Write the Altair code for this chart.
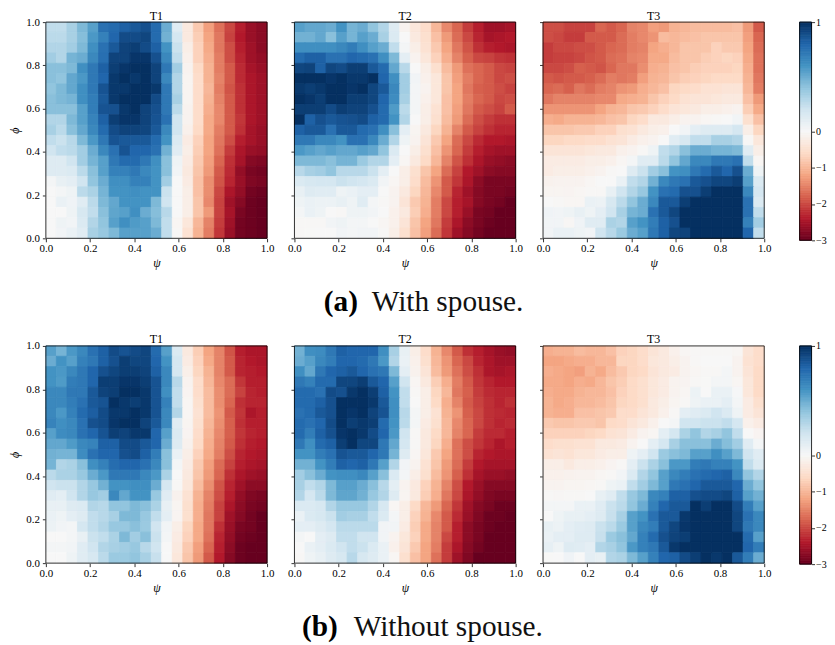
import altair as alt
import pandas as pd
import numpy as np

# Rows run from phi = 1 (top) to phi = 0 (bottom); columns from psi = 0 to psi = 1.
a_t1 = [
[.25,.25,.33,.45,.55,.75,.78,.82,.85,.88,.78,.5,.12,-.3,-.8,-1.25,-1.65,-2.0,-2.35,-2.6,-2.7],
[.27,.27,.33,.43,.58,.68,.8,.9,.9,.92,.78,.48,.18,-.3,-.75,-1.2,-1.6,-2.05,-2.4,-2.6,-2.7],
[.3,.3,.35,.45,.62,.75,.85,.93,.95,.9,.82,.6,.22,-.2,-.7,-1.15,-1.6,-1.95,-2.35,-2.55,-2.7],
[.35,.3,.47,.5,.65,.76,.93,.93,.98,.98,.88,.65,.25,-.15,-.7,-1.1,-1.55,-1.95,-2.3,-2.55,-2.65],
[.42,.42,.45,.62,.72,.82,.95,.98,1,1,.93,.72,.35,-.1,-.6,-1.05,-1.55,-1.85,-2.25,-2.5,-2.6],
[.42,.4,.52,.58,.72,.8,.97,1,.97,1,.93,.65,.3,-.07,-.55,-1.05,-1.5,-1.85,-2.25,-2.45,-2.55],
[.4,.45,.52,.62,.72,.87,.97,.97,1,1,.97,.72,.3,-.07,-.55,-1.0,-1.55,-1.9,-2.2,-2.45,-2.55],
[.42,.45,.47,.62,.7,.85,.97,1,1,1,.9,.72,.33,-.07,-.55,-1.05,-1.5,-1.85,-2.2,-2.45,-2.55],
[.42,.42,.42,.55,.7,.87,.88,.97,1,.93,.88,.72,.27,-.1,-.55,-1.1,-1.45,-1.85,-2.2,-2.45,-2.55],
[.3,.3,.45,.55,.67,.82,.95,.98,.98,.93,.87,.75,.2,-.1,-.55,-1.15,-1.45,-1.85,-2.15,-2.45,-2.55],
[.33,.27,.42,.52,.65,.78,.9,.93,.93,.92,.85,.65,.2,-.15,-.6,-1.15,-1.55,-1.85,-2.2,-2.5,-2.6],
[.25,.22,.28,.45,.58,.72,.87,.85,.85,.85,.78,.6,.15,-.25,-.7,-1.2,-1.6,-1.95,-2.35,-2.5,-2.6],
[.2,.25,.27,.35,.5,.65,.75,.87,.8,.8,.75,.48,.12,-.2,-.75,-1.2,-1.65,-2.1,-2.45,-2.6,-2.65],
[.13,.13,.2,.35,.47,.55,.72,.78,.78,.72,.62,.42,.05,-.25,-.8,-1.25,-1.75,-2.2,-2.5,-2.75,-2.8],
[.13,.13,.15,.27,.42,.55,.68,.68,.72,.65,.6,.42,.03,-.3,-.85,-1.3,-1.85,-2.25,-2.65,-2.85,-2.9],
[.02,.08,.1,.2,.4,.5,.62,.62,.68,.68,.6,.35,0,-.25,-.9,-1.4,-1.9,-2.3,-2.6,-2.8,-2.85],
[0,.02,.05,.27,.32,.47,.6,.6,.62,.6,.6,.22,0,-.2,-.9,-1.4,-2.0,-2.45,-2.65,-2.9,-2.95],
[0,.07,.04,.12,.27,.45,.52,.6,.6,.6,.45,.2,0,-.2,-.85,-1.45,-2.05,-2.55,-2.75,-2.95,-3],
[0,0,.05,.17,.25,.42,.53,.55,.62,.5,.43,.28,0,-.2,-.85,-1.3,-2.05,-2.5,-2.85,-2.95,-3],
[0,.05,.03,.15,.3,.4,.55,.62,.57,.55,.45,.25,-.05,-.35,-1,-1.5,-2.1,-2.55,-2.9,-2.95,-3],
[0,.03,.07,.12,.33,.38,.45,.55,.55,.55,.5,.25,-.03,-.45,-1.05,-1.55,-2.15,-2.6,-2.9,-2.95,-3],
]
a_t2 = [
[.55,.52,.52,.5,.6,.47,.5,.4,.3,.13,-.1,-.35,-.55,-1,-1.45,-1.75,-2.1,-2.35,-2.55,-2.55,-2.5],
[.48,.48,.52,.42,.55,.47,.55,.5,.33,.15,0,-.3,-.5,-.9,-1.3,-1.7,-2,-2.3,-2.5,-2.45,-2.4],
[.62,.62,.62,.62,.65,.7,.62,.55,.5,.25,.02,-.2,-.45,-.8,-1.2,-1.6,-1.9,-2.2,-2.35,-2.4,-2.45],
[.78,.82,.82,.75,.75,.8,.78,.75,.62,.45,.1,-.1,-.35,-.7,-1.1,-1.5,-1.8,-2,-2.05,-2.15,-2.2],
[.92,.93,.82,.92,.9,.95,.95,.85,.78,.52,.28,0,-.2,-.5,-.95,-1.3,-1.65,-1.75,-1.85,-2,-2.05],
[1,1,1,.98,1,.97,.97,1,.8,.62,.35,.03,-.15,-.35,-.85,-1.25,-1.55,-1.75,-1.85,-2,-1.95],
[.97,.95,.97,1,1,.98,1,.92,.85,.65,.35,.02,-.1,-.35,-.85,-1.2,-1.6,-1.8,-1.85,-1.95,-2.05],
[1,.98,.95,1,1,.95,.95,.92,.8,.63,.33,.02,-.15,-.35,-.9,-1.2,-1.55,-1.75,-1.85,-2,-1.95],
[.95,.95,.95,.9,.95,.93,.93,.88,.78,.57,.27,.02,-.2,-.45,-.9,-1.25,-1.6,-1.85,-1.95,-2.05,-1.85],
[1,.82,.88,.85,.87,.88,.9,.82,.78,.6,.3,0,-.2,-.5,-.95,-1.3,-1.7,-1.95,-2.1,-2.2,-2.2],
[.82,.85,.85,.75,.85,.85,.78,.75,.62,.42,.1,-.07,-.3,-.65,-1.05,-1.5,-1.85,-2.05,-2.2,-2.3,-2.3],
[.72,.72,.65,.65,.6,.75,.75,.65,.5,.3,.05,-.1,-.4,-.8,-1.2,-1.7,-2,-2.25,-2.4,-2.4,-2.45],
[.58,.55,.52,.55,.52,.52,.55,.52,.4,.15,0,-.2,-.5,-.9,-1.35,-1.75,-2.1,-2.35,-2.5,-2.55,-2.55],
[.45,.45,.45,.42,.47,.47,.37,.3,.3,.1,-.05,-.3,-.6,-1,-1.5,-1.9,-2.2,-2.45,-2.6,-2.65,-2.7],
[.28,.33,.35,.4,.28,.28,.28,.22,.1,0,-.2,-.5,-.85,-1.2,-1.7,-2.05,-2.4,-2.55,-2.7,-2.75,-2.75],
[.15,.17,.18,.18,.22,.2,.18,.15,.03,-.05,-.2,-.55,-.95,-1.35,-1.85,-2.15,-2.45,-2.7,-2.85,-2.85,-2.85],
[.08,.13,.12,.12,.05,.07,.1,.1,0,-.1,-.3,-.65,-1,-1.45,-1.85,-2.3,-2.55,-2.75,-2.85,-2.85,-2.9],
[.05,.07,.06,.06,.08,.05,.12,.02,-.02,-.1,-.4,-.8,-1.05,-1.55,-2.0,-2.35,-2.5,-2.75,-2.85,-2.9,-3],
[.02,.07,.05,0,-.02,.05,.05,.03,0,-.15,-.3,-.75,-1.1,-1.55,-2,-2.35,-2.6,-2.85,-2.9,-3,-3],
[-.02,-.02,-.02,.03,.05,.02,.02,0,-.05,-.15,-.4,-.85,-1.2,-1.6,-2.1,-2.45,-2.7,-2.85,-2.95,-3,-3],
[-.02,-.01,0,0,.03,.02,.03,.03,-.02,-.2,-.5,-.9,-1.25,-1.7,-2.15,-2.55,-2.75,-2.9,-3,-3,-3],
]
a_t3 = [
[-1.95,-1.95,-2.05,-2.05,-2.05,-1.75,-1.85,-1.75,-1.5,-1.45,-1.25,-1.3,-1.05,-1,-.95,-.95,-.95,-.95,-.9,-1.3,-1.85],
[-1.95,-2,-2.1,-2.1,-1.85,-1.85,-1.85,-1.7,-1.55,-1.45,-1.35,-.95,-1,-.95,-.9,-.85,-.85,-.85,-.85,-1.25,-1.75],
[-2.1,-2,-2,-1.95,-1.95,-1.85,-1.75,-1.7,-1.55,-1.5,-1.2,-1.1,-1,-.85,-.85,-.85,-.7,-.8,-.8,-1.2,-1.7],
[-2.1,-2.05,-2.05,-2,-1.9,-1.85,-1.7,-1.65,-1.5,-1.45,-1.15,-1.15,-.95,-.85,-.85,-.75,-.7,-.65,-.7,-1.15,-1.65],
[-2,-2,-1.95,-1.8,-1.85,-1.9,-1.75,-1.6,-1.6,-1.4,-1.1,-1.05,-.9,-.85,-.75,-.7,-.7,-.7,-.65,-1.1,-1.65],
[-1.85,-1.9,-1.85,-1.85,-1.8,-1.7,-1.55,-1.6,-1.55,-1.25,-1.05,-1,-.85,-.75,-.7,-.65,-.6,-.6,-.6,-1.05,-1.6],
[-1.75,-1.7,-1.8,-1.6,-1.7,-1.55,-1.5,-1.35,-1.3,-1.1,-1,-.9,-.65,-.6,-.55,-.45,-.45,-.4,-.4,-1,-1.55],
[-1.6,-1.5,-1.5,-1.5,-1.5,-1.45,-1.45,-1.15,-1.1,-1.05,-.85,-.7,-.6,-.45,-.4,-.4,-.35,-.3,-.3,-.9,-1.3],
[-1.35,-1.35,-1.35,-1.35,-1.35,-1.2,-1.05,-1,-.85,-.8,-.7,-.55,-.4,-.35,-.3,-.2,-.2,-.15,-.1,-.75,-1.15],
[-1.1,-1.15,-1.05,-1.05,-1.05,-1,-.9,-.85,-.65,-.55,-.3,-.3,-.2,-.1,-.1,-.05,-.03,0,.03,-.5,-.9],
[-.85,-.85,-.85,-.8,-.8,-.7,-.7,-.5,-.45,-.3,-.2,-.15,0,.03,.1,.13,.13,.13,.18,-.2,-.65],
[-.65,-.65,-.6,-.6,-.55,-.55,-.45,-.4,-.25,-.15,-.1,0,.12,.17,.25,.25,.33,.33,.3,-.02,-.35],
[-.4,-.4,-.4,-.4,-.35,-.3,-.3,-.15,-.1,-.03,.05,.25,.3,.42,.5,.5,.47,.47,.45,.12,-.2],
[-.25,-.25,-.25,-.25,-.2,-.2,-.15,-.05,.02,.12,.12,.27,.4,.52,.65,.65,.72,.72,.75,.25,-.05],
[-.25,-.2,-.2,-.2,-.15,-.1,-.03,0,.13,.22,.35,.42,.6,.62,.72,.78,.85,.8,.88,.5,.05],
[-.12,-.1,-.1,-.1,-.05,0,0,.07,.25,.3,.48,.65,.72,.75,.85,.88,.92,.92,.95,.55,.15],
[-.07,-.07,-.08,-.05,-.03,-.03,.08,.2,.3,.38,.6,.75,.78,.88,.88,.95,1,1,1,.65,.18],
[0,-.02,-.05,-.05,.07,.06,.17,.27,.4,.5,.65,.85,.85,.95,1,1,1,1,1,.75,.15],
[.04,.03,.05,.08,.05,.1,.2,.33,.47,.5,.75,.85,.92,1,1,1,1,1,1,.75,.25],
[.03,.03,-.04,.04,.12,.12,.32,.3,.55,.6,.7,.82,.88,1,1,1,1,1,1,.68,.35],
[.03,.07,.07,.05,.03,.2,.28,.37,.5,.55,.72,.82,.92,.93,1,1,1,1,1,.8,.25],
]
b_t1 = [
[.55,.47,.58,.65,.75,.82,.9,.87,.9,.92,.78,.55,.15,-.3,-.75,-1.2,-1.5,-1.9,-2.35,-2.45,-2.45],
[.5,.6,.55,.68,.72,.82,.88,.95,.92,.92,.8,.6,.18,-.25,-.7,-1.15,-1.5,-1.85,-2.3,-2.4,-2.45],
[.6,.58,.65,.72,.8,.88,.92,.95,.95,.93,.82,.65,.18,-.18,-.65,-1.05,-1.5,-1.85,-2.3,-2.35,-2.4],
[.6,.57,.7,.72,.8,.95,.95,.98,.98,.95,.87,.65,.28,-.1,-.55,-1,-1.45,-1.7,-2.15,-2.35,-2.35],
[.65,.65,.72,.72,.85,.93,.95,1,1,.97,.87,.62,.25,-.08,-.55,-.95,-1.4,-1.7,-2.05,-2.3,-2.35],
[.65,.65,.7,.75,.85,.87,1,.97,.95,.97,.87,.68,.25,-.05,-.5,-.95,-1.4,-1.75,-2.2,-2.3,-2.3],
[.65,.58,.68,.78,.83,.9,.97,.97,1,.97,.87,.65,.3,-.05,-.45,-.95,-1.35,-1.85,-2.15,-2.45,-2.35],
[.67,.62,.65,.75,.88,.9,.98,1,1,.93,.85,.65,.12,-.07,-.5,-1,-1.4,-1.8,-2.2,-2.35,-2.35],
[.55,.63,.65,.75,.8,.87,.95,.93,.97,.97,.8,.55,.15,-.08,-.55,-1.05,-1.45,-1.8,-2.15,-2.3,-2.35],
[.52,.52,.57,.65,.67,.82,.82,.9,.9,.85,.8,.5,.13,-.12,-.6,-1.1,-1.5,-1.85,-2.2,-2.35,-2.4],
[.48,.47,.47,.63,.75,.8,.8,.88,.9,.82,.7,.42,.07,-.2,-.7,-1.15,-1.55,-1.95,-2.3,-2.4,-2.45],
[.47,.3,.32,.42,.62,.68,.77,.8,.8,.75,.65,.42,.02,-.25,-.8,-1.25,-1.7,-2.05,-2.35,-2.45,-2.5],
[.27,.32,.32,.38,.5,.58,.72,.72,.72,.65,.58,.32,0,-.3,-.85,-1.3,-1.75,-2.2,-2.45,-2.55,-2.6],
[.2,.22,.22,.3,.38,.48,.6,.6,.62,.62,.5,.18,-.02,-.35,-.95,-1.4,-1.9,-2.3,-2.55,-2.7,-2.7],
[.12,.1,.2,.3,.38,.35,.65,.52,.6,.6,.38,.12,-.12,-.45,-1.05,-1.5,-1.95,-2.35,-2.65,-2.8,-2.85],
[.08,.08,.13,.15,.3,.28,.4,.4,.45,.42,.32,.08,-.07,-.5,-1.1,-1.55,-2.05,-2.45,-2.7,-2.85,-2.9],
[.07,.05,.1,.13,.25,.28,.33,.45,.45,.38,.25,.1,-.08,-.5,-1.1,-1.6,-2.05,-2.55,-2.75,-2.9,-3],
[.06,.03,.02,.18,.25,.3,.38,.38,.42,.37,.2,.03,-.2,-.65,-1.15,-1.6,-2.2,-2.6,-2.85,-2.9,-3],
[0,0,.02,.08,.22,.25,.32,.45,.35,.42,.22,.02,-.25,-.7,-1.15,-1.65,-2.3,-2.65,-2.9,-2.95,-3],
[.02,.02,.03,.12,.2,.3,.33,.35,.38,.28,.2,0,-.3,-.8,-1.25,-1.75,-2.35,-2.7,-2.95,-3,-3],
[0,0,.05,.12,.17,.27,.37,.37,.4,.33,.23,0,-.35,-.85,-1.3,-1.85,-2.4,-2.75,-2.95,-3,-3],
]
b_t2 = [
[.48,.62,.63,.72,.82,.8,.8,.8,.62,.33,.08,-.2,-.55,-1.05,-1.45,-1.85,-2.2,-2.35,-2.5,-2.6,-2.65],
[.5,.55,.65,.7,.8,.8,.78,.72,.58,.3,.07,-.15,-.5,-1,-1.35,-1.75,-2,-2.3,-2.45,-2.55,-2.55],
[.62,.52,.72,.8,.82,.85,.8,.75,.72,.45,.1,-.12,-.4,-.95,-1.3,-1.65,-1.95,-2.2,-2.45,-2.5,-2.45],
[.72,.68,.78,.78,.92,.92,.95,.85,.8,.55,.2,-.05,-.3,-.75,-1.1,-1.55,-1.85,-2.15,-2.3,-2.4,-2.4],
[.78,.78,.75,.9,.88,.97,1,.95,.82,.6,.25,-.03,-.2,-.65,-1,-1.6,-1.8,-2.1,-2.25,-2.3,-2.3],
[.78,.78,.82,.88,1,1,1,.97,.85,.62,.25,0,-.2,-.6,-1.1,-1.5,-1.85,-2.05,-2.2,-2.3,-2.2],
[.75,.78,.85,.88,1,.98,1,.93,.87,.62,.28,.02,-.2,-.45,-1.05,-1.35,-1.8,-2,-2.2,-2.25,-2.3],
[.78,.75,.8,.9,1,.95,.97,.95,.78,.6,.27,.02,-.25,-.5,-1,-1.45,-1.75,-2,-2.2,-2.3,-2.25],
[.78,.7,.82,.88,.98,1,.97,.9,.8,.58,.2,-.02,-.3,-.6,-1,-1.5,-1.75,-2.1,-2.25,-2.25,-2.35],
[.72,.62,.78,.82,.95,1,.92,.92,.72,.52,.18,-.03,-.3,-.65,-1.1,-1.65,-1.95,-2.15,-2.3,-2.45,-2.35],
[.6,.6,.7,.75,.87,.85,.85,.8,.72,.47,.13,-.05,-.35,-.8,-1.2,-1.65,-1.95,-2.3,-2.4,-2.45,-2.45],
[.48,.48,.6,.7,.82,.8,.82,.72,.55,.3,.03,-.1,-.45,-.85,-1.3,-1.7,-2.1,-2.4,-2.5,-2.5,-2.5],
[.35,.42,.5,.6,.62,.62,.65,.55,.42,.15,.02,-.2,-.5,-.95,-1.35,-1.8,-2.2,-2.5,-2.6,-2.6,-2.65],
[.33,.25,.3,.45,.55,.55,.5,.42,.28,.1,-.1,-.3,-.7,-1.05,-1.5,-1.95,-2.4,-2.6,-2.75,-2.75,-2.75],
[.3,.18,.27,.45,.53,.53,.48,.38,.3,.13,-.07,-.3,-.75,-1.1,-1.6,-2,-2.45,-2.65,-2.8,-2.85,-2.85],
[.15,.15,.17,.3,.38,.38,.38,.3,.17,-.05,-.2,-.6,-1.0,-1.3,-1.75,-2.15,-2.55,-2.75,-2.85,-2.95,-2.95],
[.07,.15,.17,.22,.35,.33,.33,.25,.15,.02,-.2,-.7,-1.05,-1.45,-1.85,-2.25,-2.6,-2.8,-2.95,-2.95,-3],
[.1,.1,.13,.18,.27,.27,.27,.27,.03,.03,-.25,-.75,-1.15,-1.5,-1.85,-2.35,-2.7,-2.85,-2.95,-3,-3],
[.02,0,.1,.13,.25,.25,.2,.2,.03,-.1,-.35,-.7,-1.15,-1.5,-2,-2.35,-2.7,-2.85,-3,-3,-3],
[0,.07,.1,.15,.2,.25,.22,.15,.07,-.15,-.4,-.8,-1.2,-1.55,-2.1,-2.45,-2.75,-2.9,-3,-3,-3],
[-.03,.05,.08,.13,.17,.28,.17,.13,.07,-.05,-.5,-.9,-1.2,-1.65,-2.1,-2.55,-2.8,-3,-3,-3,-3],
]
b_t3 = [
[-1.1,-1.05,-1.05,-.95,-1,-1.0,-.9,-.7,-.65,-.55,-.4,-.3,-.15,-.05,-.02,-.02,-.02,-.02,-.05,-.4,-.55],
[-1.2,-1.2,-1.15,-1.1,-1.1,-1,-1,-.65,-.65,-.55,-.35,-.3,-.2,-.1,-.03,0,0,0,-.1,-.45,-.55],
[-1.1,-1.15,-1.2,-1.25,-1.05,-1.15,-.95,-.8,-.65,-.6,-.4,-.3,-.25,-.1,-.05,-.02,-.02,.02,-.1,-.4,-.6],
[-1.15,-1.15,-1.2,-1.1,-1.15,-1.0,-.85,-.75,-.6,-.5,-.35,-.25,-.1,-.08,-.03,-.01,.02,.02,-.05,-.35,-.6],
[-1.1,-1.15,-1.15,-1.05,-1,-1,-.9,-.7,-.6,-.5,-.35,-.25,-.1,-.05,.06,0,.07,.07,.01,-.35,-.6],
[-1.05,-1.15,-1.1,-1,-1,-.95,-.85,-.65,-.6,-.5,-.3,-.2,-.07,-.03,.05,.07,.07,.1,.02,-.25,-.5],
[-1.05,-1.1,-1.1,-.9,-.9,-.85,-.8,-.55,-.55,-.4,-.3,-.15,-.02,.1,.12,.15,.2,.15,.05,-.25,-.4],
[-.8,-.85,-.85,-.8,-.8,-.85,-.6,-.55,-.4,-.3,-.15,0,.02,.2,.2,.22,.22,.25,.18,-.15,-.25],
[-.7,-.7,-.7,-.7,-.65,-.6,-.45,-.4,-.25,-.1,-.05,.1,.18,.32,.4,.3,.33,.4,.25,0,-.08],
[-.55,-.5,-.5,-.45,-.45,-.3,-.3,-.25,-.1,0,.1,.18,.33,.42,.42,.42,.5,.43,.35,.12,.02],
[-.45,-.4,-.45,-.35,-.35,-.25,-.2,-.2,.05,.1,.2,.37,.42,.45,.55,.55,.62,.55,.45,.2,.12],
[-.2,-.2,-.3,-.2,-.2,-.15,-.08,-.02,.1,.22,.32,.42,.58,.58,.7,.72,.68,.68,.6,.25,.15],
[-.15,-.15,-.12,-.1,-.1,-.05,-.03,.03,.15,.3,.4,.55,.65,.7,.75,.78,.8,.82,.65,.4,.3],
[-.1,-.1,-.07,-.07,-.05,-.02,.05,.07,.25,.35,.45,.55,.72,.75,.8,.85,.85,.85,.8,.5,.4],
[-.03,-.04,-.03,-.03,0,.08,.12,.25,.38,.45,.65,.68,.82,.82,.88,.9,.9,.92,.82,.55,.48],
[.02,.02,.02,.07,.07,.12,.22,.27,.4,.5,.68,.8,.85,.85,1,.95,1,1,.9,.7,.55],
[0,.05,.08,.08,.1,.13,.23,.33,.55,.6,.75,.85,.85,.97,1,1,1,1,.92,.75,.65],
[.08,.06,.1,.12,.13,.22,.27,.37,.55,.65,.7,.85,.92,.98,1,1,1,1,.92,.72,.65],
[.07,.1,.1,.13,.13,.23,.37,.42,.52,.68,.78,.88,.93,.95,1,1,1,1,1,.78,.55],
[.09,.05,.13,.12,.1,.3,.33,.4,.58,.68,.72,.85,.97,1,1,1,1,1,1,.8,.7],
[-.01,0,.04,0,.1,.08,.3,.32,.45,.55,.68,.8,.82,.9,.95,1,.97,1,.85,.7,.5],
]
panel_titles = ["T1", "T2", "T3"]
axis_ticks = [0.0, 0.2, 0.4, 0.6, 0.8, 1.0]
bar_ticks = [1, 0, -1, -2, -3]
caption_a = ["(a)", "With spouse."]
caption_b = ["(b)", "Without spouse."]
stops = [-3, -2.4, -1.8, -1.2, -0.6, 0, 0.2, 0.4, 0.6, 0.8, 1]
stop_colors = ["#67001f", "#b2182b", "#d6604d", "#f4a582", "#fddbc7", "#f7f7f7",
               "#d1e5f0", "#92c5de", "#4393c3", "#2166ac", "#053061"]

SERIF = "Liberation Serif"
color_scale = alt.Scale(domain=stops, range=stop_colors, interpolate="rgb")
empty = alt.Data(values=[{}])


def cells(matrix):
    n = len(matrix)
    rows = []
    for r, row in enumerate(matrix):
        for c, v in enumerate(row):
            rows.append({"x0": c / n, "x1": (c + 1) / n,
                         "y0": 1 - (r + 1) / n, "y1": 1 - r / n, "v": v})
    return pd.DataFrame(rows)


def title_mark(text, x):
    return alt.Chart(empty).mark_text(text=text, font=SERIF, fontSize=12, align="center",
                                      baseline="alphabetic", color="black").encode(
        x=alt.value(x), y=alt.value(-2.5))


def panel(matrix, title, first, w, h):
    x_axis = alt.Axis(values=axis_ticks, format=".1f", title="ψ", grid=False,
                      domain=False, tickSize=3.5, tickColor="black", tickWidth=.8,
                      labelFlush=False, labelFont=SERIF, labelFontSize=11, labelColor="black", labelPadding=1,
                      titleFont=SERIF, titleFontSize=12, titleFontStyle="italic",
                      titleFontWeight="normal", titleColor="black", titlePadding=4)
    y_axis = alt.Axis(values=axis_ticks, format=".1f", title="ϕ" if first else None,
                      labels=first, grid=False, domain=False, tickSize=3.5,
                      tickColor="black", tickWidth=.8, labelFont=SERIF, labelFontSize=11,
                      labelColor="black", labelPadding=3, titleFont=SERIF, titleFontSize=12,
                      titleFontStyle="italic", titleFontWeight="normal", titleColor="black",
                      titlePadding=4)
    heat = alt.Chart(cells(matrix)).mark_rect(strokeWidth=0.8).encode(
        x=alt.X("x0:Q", scale=alt.Scale(domain=[0, 1], nice=False), axis=x_axis),
        x2="x1:Q",
        y=alt.Y("y0:Q", scale=alt.Scale(domain=[0, 1], nice=False), axis=y_axis),
        y2="y1:Q",
        color=alt.Color("v:Q", scale=color_scale, legend=None),
        stroke=alt.Stroke("v:Q", scale=color_scale, legend=None),
    )
    frame = alt.Chart(empty).mark_rect(
        filled=False, stroke="black", strokeWidth=0.8
    ).encode(x=alt.value(0), x2=alt.value(w), y=alt.value(0), y2=alt.value(h))
    return alt.layer(heat, frame, title_mark(title, w / 2)).properties(width=w, height=h)


def colorbar(h):
    levels = list(np.linspace(-3, 0, 65)[:-1]) + list(np.linspace(0, 1, 65))
    df = pd.DataFrame({"lo": levels[:-1], "hi": levels[1:]})
    df["v"] = (df.lo + df.hi) / 2
    axis = alt.Axis(values=bar_ticks, orient="right", format="d", title=None, grid=False,
                    domain=False, tickSize=3, tickColor="black", tickWidth=.8,
                    labelFont=SERIF, labelFontSize=10, labelColor="black", labelPadding=1)
    y_scale = alt.Scale(domain=[-3, 0, 1], range=[h, h / 2, 0])
    bar = alt.Chart(df).mark_rect(strokeWidth=0.8).encode(
        x=alt.value(0), x2=alt.value(12),
        y=alt.Y("lo:Q", scale=y_scale, axis=axis), y2="hi:Q",
        color=alt.Color("v:Q", scale=color_scale, legend=None),
        stroke=alt.Stroke("v:Q", scale=color_scale, legend=None),
    )
    frame = alt.Chart(empty).mark_rect(
        filled=False, stroke="black", strokeWidth=0.8
    ).encode(x=alt.value(0), x2=alt.value(12), y=alt.value(0), y2=alt.value(h))
    return alt.layer(bar, frame, title_mark(" ", 6)).properties(width=12, height=h)


def row(mats, h):
    panels = alt.hconcat(*[panel(m, t, i == 0, 222, h)
                           for i, (m, t) in enumerate(zip(mats, panel_titles))], spacing=13.5)
    return alt.hconcat(panels, colorbar(219), spacing=27.5)


def caption(parts, x_bold, x_text, h, base_y):
    base = alt.Chart(empty)
    bold = base.mark_text(text=parts[0], font=SERIF, fontSize=29.4, fontWeight="bold",
                          align="left", baseline="alphabetic", color="black").encode(
        x=alt.value(x_bold), y=alt.value(base_y))
    text = base.mark_text(text=parts[1], font=SERIF, fontSize=29.4, align="left",
                          baseline="alphabetic", color="#111111").encode(
        x=alt.value(x_text), y=alt.value(base_y))
    return alt.layer(bold, text).properties(width=640, height=h)


chart = alt.vconcat(
    row([a_t1, a_t2, a_t3], 217),
    caption(caption_a, 279, 327, 64, 42),
    row([b_t1, b_t2, b_t3], 218),
    caption(caption_b, 257, 309, 50, 42),
    spacing=0,
).properties(padding={"left": 0, "top": 0, "right": 0, "bottom": 0}).configure_view(stroke=None)

chart.save("out.html", embed_options={"renderer": "svg", "actions": False})
